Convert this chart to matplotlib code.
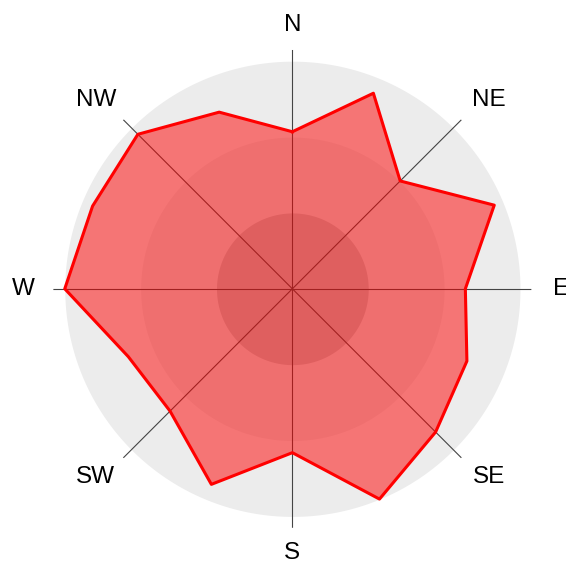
import numpy as np
import matplotlib
matplotlib.use("Agg")
import matplotlib.pyplot as plt

# 16 compass sectors, clockwise from north
sectors = ['N', 'NNE', 'NE', 'ENE', 'E', 'ESE', 'SE', 'SSE',
           'S', 'SSW', 'SW', 'WSW', 'W', 'WNW', 'NW', 'NNW']
values = [69, 93, 67, 96, 76, 83, 89, 100,
          72, 93, 76, 78, 100, 95, 96, 84]

# labelled axes
axis_labels = ['N', 'NE', 'E', 'SE', 'S', 'SW', 'W', 'NW']

rmax = 100
band_colors = ['#ececec', '#e0e0e0', '#c0c0c0']

plt.rcParams['font.family'] = ['Liberation Sans', 'DejaVu Sans']

fig = plt.figure(figsize=(5.66, 5.64), dpi=100)
ax = fig.add_axes([0.0943, 0.0642, 0.8445, 0.8475], projection='polar')
ax.set_theta_zero_location('N')
ax.set_theta_direction(-1)
ax.set_ylim(0, rmax * 1.05)
ax.grid(False)
ax.set_xticks([])
ax.set_yticks([])
ax.spines['polar'].set_visible(False)
ax.patch.set_alpha(0)

# background bands
circ = np.linspace(0, 2 * np.pi, 361)
for i, c in enumerate(band_colors):
    outer = rmax * (3 - i) / 3
    ax.fill_between(circ, 0, outer, color=c, lw=0, zorder=1)

# spokes + labels
for k, name in enumerate(axis_labels):
    deg = 45 * k
    ang = np.deg2rad(deg)
    ax.plot([ang, ang], [0, rmax * 1.05], color='#444444', lw=0.8, zorder=2)
    if k % 2 == 1:
        # diagonal labels sit a bit wider than the spoke
        nudge = 1.2 if deg in (45, 225) else -1.2
        lang, lr = np.deg2rad(deg + nudge), rmax * 1.197
    elif deg in (90, 270):
        lang, lr = ang, rmax * 1.18
    else:
        lang, lr = ang, rmax * 1.16
    ax.text(lang, lr, name, ha='center', va='center', fontsize=17.5,
            color='black', clip_on=False)

# data polygon
theta = np.deg2rad(np.arange(len(sectors)) * 22.5)
t = np.append(theta, theta[0])
v = np.append(values, values[0])
ax.fill(t, v, color='#ff0000', alpha=0.5, lw=0, zorder=3)
ax.plot(t, v, color='#ff0000', lw=2.2, zorder=4)

fig.savefig('out.png', dpi=100)
